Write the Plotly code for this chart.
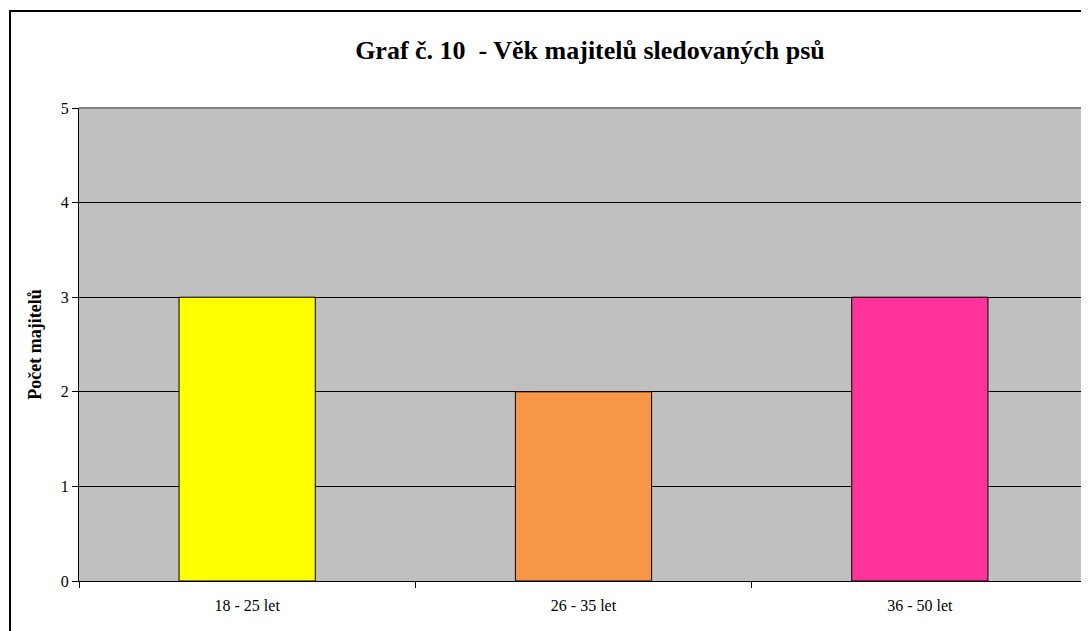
import plotly.graph_objects as go

categories = ["18 - 25 let", "26 - 35 let", "36 - 50 let"]
values = [3, 2, 3]
colors = ["#FFFF00", "#F79646", "#FF3399"]

title_text = "Graf č. 10  - Věk majitelů sledovaných psů"
y_title = "Počet majitelů"

fig = go.Figure()
fig.add_trace(go.Bar(
    x=categories, y=values,
    marker=dict(color=colors, line=dict(color="black", width=1)),
    width=0.405,
))

OFF = 8  # browser body margin
W, H = 1089 - OFF, 631 - OFF
L, R, T, B = 79 - OFF, 1, 108 - OFF, 50
pw = W - L - R
ph = H - T - B

def px_x(p):
    return (p - OFF - L) / pw

def px_y(p):
    return (H - B - (p - OFF)) / ph

fig.update_layout(
    width=W, height=H,
    margin=dict(l=L, r=R, t=T, b=B),
    paper_bgcolor="white",
    plot_bgcolor="#C0C0C0",
    showlegend=False,
    font=dict(family="Liberation Serif, Times New Roman, serif", color="black", size=16),
    title=dict(
        text="<b>" + title_text + "</b>",
        font=dict(size=26, family="Liberation Serif, serif", color="black"),
        x=px_x(590), xref="paper", xanchor="center",
        y=1 - (50 - OFF) / H, yanchor="middle",
    ),
    xaxis=dict(
        type="category",
        tickson="boundaries",
        ticks="outside", ticklen=6, tickcolor="black", tickwidth=1,
        showline=True, linecolor="black", linewidth=1,
        showgrid=False,
        tickfont=dict(size=16),
        ticklabelstandoff=10,
    ),
    yaxis=dict(
        range=[0, 5], dtick=1,
        ticks="outside", ticklen=6, tickcolor="black", tickwidth=1,
        showline=True, linecolor="black", linewidth=1,
        showgrid=True, gridcolor="black", gridwidth=1,
        zeroline=False,
        tickfont=dict(size=16),
        title=dict(text="<b>" + y_title + "</b>", font=dict(size=18), standoff=14),
    ),
    shapes=[
        dict(type="line", xref="paper", yref="paper", x0=0, x1=1, y0=1, y1=1,
             line=dict(color="#808080", width=2), layer="above"),
        dict(type="line", xref="paper", yref="paper", x0=1, x1=1, y0=0, y1=1,
             line=dict(color="#808080", width=1), layer="above"),
        dict(type="rect", xref="paper", yref="paper",
             x0=px_x(10), x1=px_x(1089 + 30), y0=px_y(631 + 30), y1=px_y(11),
             line=dict(color="black", width=2), fillcolor="rgba(0,0,0,0)", layer="above"),
    ],
)

fig.write_html("out.html")
